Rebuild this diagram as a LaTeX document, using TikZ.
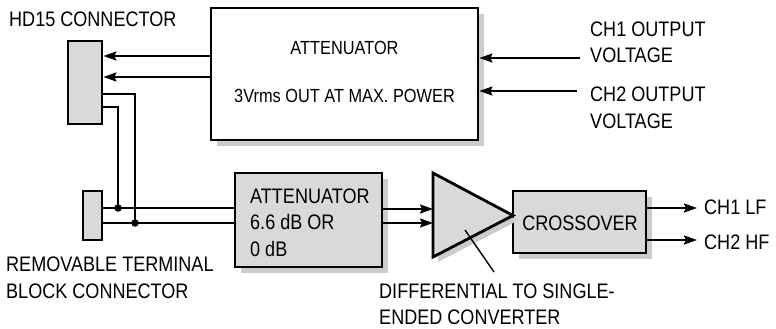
\documentclass[tikz,border=0pt]{standalone}
\usepackage{fontspec}
\setmainfont[FakeStretch=0.86]{Liberation Sans}
\usetikzlibrary{arrows.meta,shadows}
\definecolor{boxfill}{gray}{0.85}
\definecolor{shadowc}{gray}{0.80}
\tikzset{
  bx/.style={draw, line width=2.8pt, inner sep=0pt},
  gbx/.style={bx, fill=boxfill, drop shadow={shadow xshift=6pt, shadow yshift=-6pt, fill=shadowc, opacity=1}},
  wbx/.style={bx, fill=white, drop shadow={shadow xshift=6pt, shadow yshift=-6pt, fill=shadowc, opacity=1}},
  wire/.style={line width=2.2pt},
  arr/.style={line width=2.2pt, -{Stealth[length=13pt,width=9pt,inset=2pt]}},
  lbl/.style={anchor=base west, inner sep=0pt, align=left, font=\fontsize{21}{26.5}\selectfont},
  blbl/.style={anchor=base, inner sep=0pt, font=\fontsize{19}{22}\selectfont},
  dot/.style={circle, fill=black, inner sep=0pt, minimum size=7.5pt}
}
\begin{document}
\begin{tikzpicture}[x=1pt, y=-1pt]
\useasboundingbox (0,0) rectangle (776,329);
% boxes
\node[wbx, minimum width=267pt, minimum height=132pt] (top) at (344.5,74) {};
\node[bx, fill=boxfill, minimum width=34pt, minimum height=83pt] (hd) at (85,82.5) {};
\node[bx, fill=boxfill, minimum width=19pt, minimum height=49pt] (tb) at (92.5,215.5) {};
\node[gbx, minimum width=147pt, minimum height=94pt] (att) at (308.5,220) {};
\node[gbx, minimum width=133pt, minimum height=62pt] (xo) at (579.5,222) {};
% triangle (differential to single-ended converter)
\coordinate (ta) at (433,173);
\coordinate (tb2) at (433,257);
\coordinate (tip) at (513,215.5);
\fill[shadowc] ([shift={(5,5)}]ta) -- ([shift={(5,5)}]tb2) -- ([shift={(5,5)}]tip) -- cycle;
\draw[line width=2.8pt, fill=boxfill, line join=miter] (ta) -- (tb2) -- (tip) -- cycle;
% texts in boxes
\node[blbl] (t1) at (344.5,55) {ATTENUATOR};
\node[blbl] (t2) at (344.5,102) {3Vrms OUT AT MAX. POWER};
\node[lbl] (a1) at (250,256) {ATTENUATOR\\6.6 dB OR\\0 dB};
\node[anchor=base, inner sep=0pt, font=\fontsize{21}{26}\selectfont] (x1) at (580,230) {CROSSOVER};
% labels
\node[lbl] (lhd) at (9,27) {HD15 CONNECTOR};
\node[lbl] (lch1) at (590,63) {CH1 OUTPUT\\VOLTAGE};
\node[lbl] (lch2) at (590,128) {CH2 OUTPUT\\VOLTAGE};
\node[lbl] (ltb) at (6,298) {REMOVABLE TERMINAL\\BLOCK CONNECTOR};
\node[lbl, font=\fontsize{21}{25.5}\selectfont] (ldiff) at (379,324) {DIFFERENTIAL TO SINGLE-\\ENDED CONVERTER};
\node[lbl] (llf) at (704,214) {CH1 LF};
\node[lbl] (lhf) at (704,249) {CH2 HF};
% input arrows to top attenuator
\coordinate (in1) at (580,58);
\coordinate (in2) at (577,91);
\draw[arr] (in1) -- (top.east |- in1);
\draw[arr] (in2) -- (top.east |- in2);
% top attenuator to HD15
\draw[arr] (top.west |- {(0,56)}) -- (hd.east |- {(0,56)});
\draw[arr] (top.west |- {(0,77)}) -- (hd.east |- {(0,77)});
% HD15 down to the terminal block wires
\node[dot] (d1) at (118,208) {};
\node[dot] (d2) at (135,223) {};
\draw[wire] (hd.east |- {(0,94)}) -| (d2.center);
\draw[wire] (hd.east |- {(0,107)}) -| (d1.center);
\draw[wire] (tb.east |- d1) -- (att.west |- d1);
\draw[wire] (tb.east |- d2) -- (att.west |- d2);
% attenuator to converter
\draw[arr] (att.east |- {(0,209)}) -- (ta |- {(0,209)});
\draw[arr] (att.east |- {(0,223)}) -- (ta |- {(0,223)});
% converter pointer
\coordinate (pa) at (465,230);
\coordinate (pb) at (494,272);
\draw[line width=1.4pt] (pa) -- (pb);
% crossover outputs
\coordinate (o1) at (697,208);
\coordinate (o2) at (697,240);
\draw[arr] (xo.east |- o1) -- (o1);
\draw[arr] (xo.east |- o2) -- (o2);
\end{tikzpicture}
\end{document}
